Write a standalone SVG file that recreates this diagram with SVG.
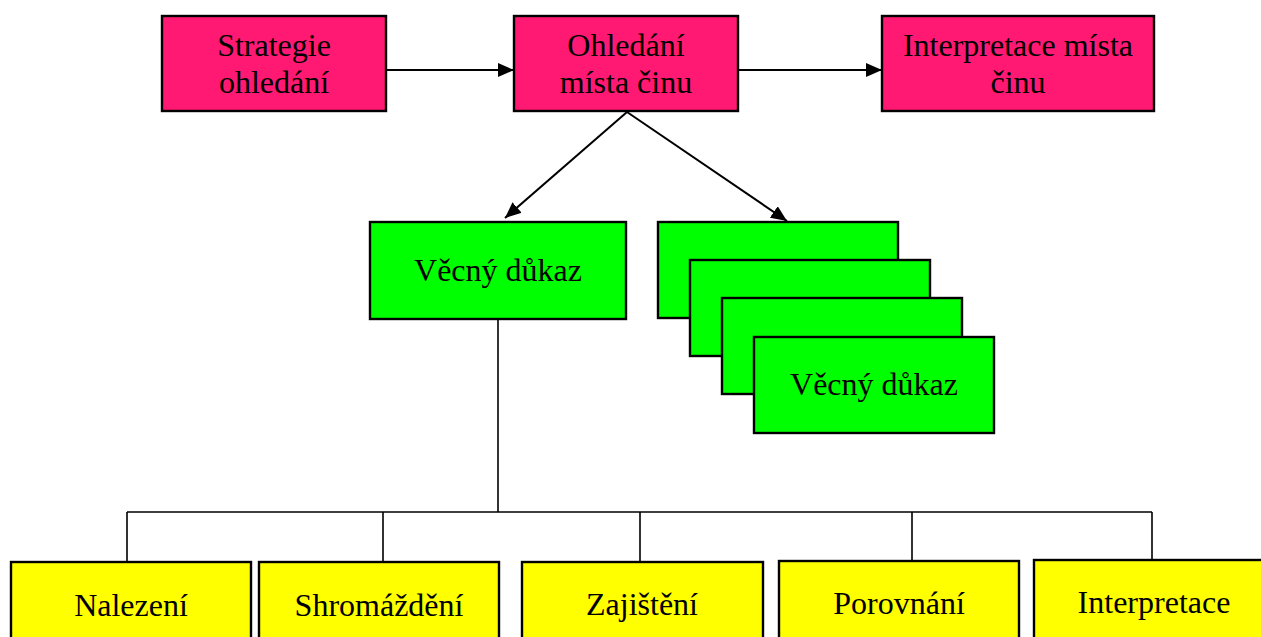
<svg xmlns="http://www.w3.org/2000/svg" width="1261" height="637" viewBox="0 0 1261 637">
<style>
.box{stroke:#000;stroke-width:2.4}
.pink{fill:#FF1972}
.green{fill:#00FF00}
.yellow{fill:#FFFF00}
text{font-family:"Liberation Serif","Times New Roman",serif;font-size:32px;fill:#000;text-anchor:middle}
.ln{stroke:#000;stroke-width:2;fill:none}
.tr{stroke:#000;stroke-width:1.6;fill:none}
</style>
<defs>
<marker id="ah" viewBox="0 0 16 14" refX="16" refY="7" markerWidth="16" markerHeight="14" markerUnits="userSpaceOnUse" orient="auto">
<path d="M0,0 L16,7 L0,14 Z" fill="#000"/>
</marker>
</defs>
<rect width="1261" height="637" fill="#fff"/>
<g id="connectors">
<line class="ln" x1="386" y1="70" x2="514" y2="70" marker-end="url(#ah)"/>
<line class="ln" x1="738" y1="70" x2="882" y2="70" marker-end="url(#ah)"/>
<line class="ln" x1="627" y1="112" x2="505" y2="218" marker-end="url(#ah)"/>
<line class="ln" x1="627" y1="112" x2="787" y2="221" marker-end="url(#ah)"/>
<path class="tr" d="M498,319 V512 M127,512 H1152 M127,512 V562 M383,512 V562 M640,512 V562 M912,512 V561 M1152,512 V560"/>
</g>
<g id="strategie">
<rect class="box pink" x="162" y="16" width="224" height="95"/>
<text x="274" y="56">Strategie</text>
<text x="274" y="93">ohledání</text>
</g>
<g id="ohledani">
<rect class="box pink" x="514" y="16" width="224" height="95"/>
<text x="626" y="56">Ohledání</text>
<text x="626" y="93">místa činu</text>
</g>
<g id="interpretace-mista">
<rect class="box pink" x="882" y="16" width="272" height="95"/>
<text x="1018" y="56">Interpretace místa</text>
<text x="1018" y="93">činu</text>
</g>
<g id="vecny-dukaz-1">
<rect class="box green" x="370" y="222" width="256" height="97"/>
<text x="498" y="281">Věcný důkaz</text>
</g>
<g id="vecny-dukaz-stack">
<rect class="box green" x="658" y="222" width="240" height="96"/>
<rect class="box green" x="690" y="260" width="240" height="96"/>
<rect class="box green" x="722" y="298" width="240" height="96"/>
<rect class="box green" x="754" y="337" width="240" height="96"/>
<text x="874" y="395">Věcný důkaz</text>
</g>
<g id="nalezeni">
<rect class="box yellow" x="11" y="562" width="240" height="100"/>
<text x="131" y="616">Nalezení</text>
</g>
<g id="shromazdeni">
<rect class="box yellow" x="259" y="562" width="240" height="100"/>
<text x="379" y="616">Shromáždění</text>
</g>
<g id="zajisteni">
<rect class="box yellow" x="522" y="562" width="241" height="100"/>
<text x="642" y="615">Zajištění</text>
</g>
<g id="porovnani">
<rect class="box yellow" x="779" y="561" width="240" height="100"/>
<text x="899" y="614">Porovnání</text>
</g>
<g id="interpretace">
<rect class="box yellow" x="1034" y="560" width="240" height="100"/>
<text x="1154" y="613">Interpretace</text>
</g>
</svg>
